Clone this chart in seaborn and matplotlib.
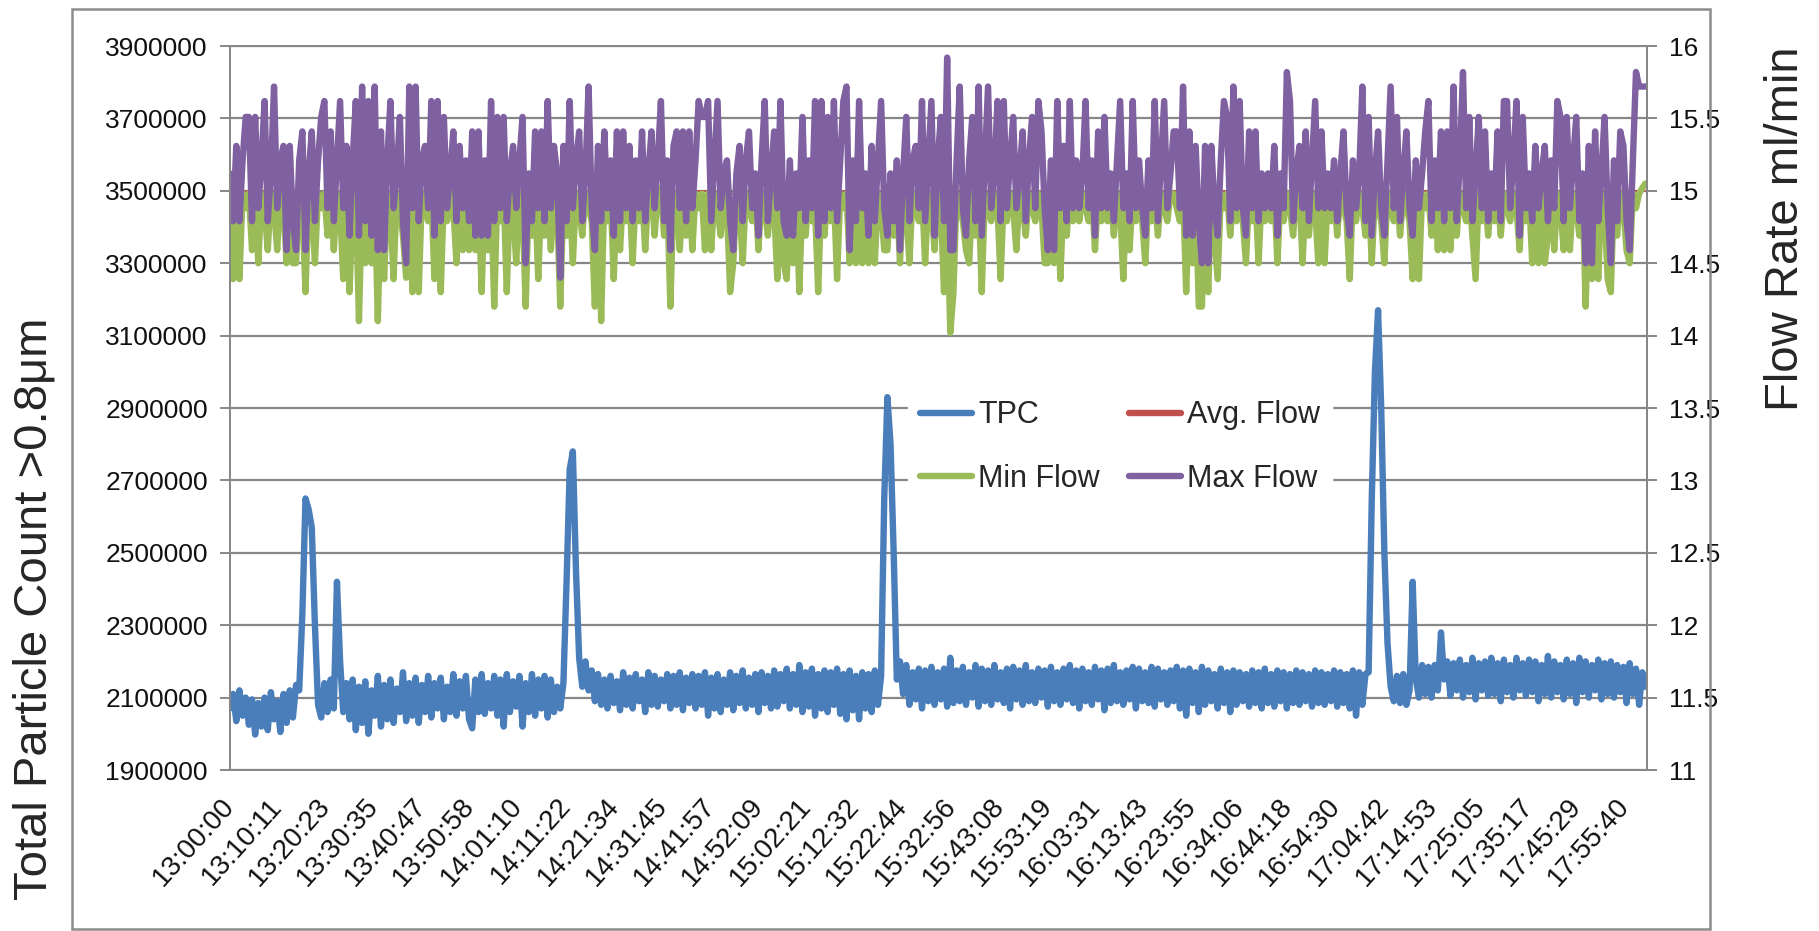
import numpy as np
import matplotlib
matplotlib.use("Agg")
import matplotlib.pyplot as plt
import seaborn as sns
from matplotlib.lines import Line2D
from matplotlib.patches import Rectangle

# ---------------- data ----------------
x_tick_labels = ["13:00:00", "13:10:11", "13:20:23", "13:30:35", "13:40:47", "13:50:58",
                 "14:01:10", "14:11:22", "14:21:34", "14:31:45", "14:41:57", "14:52:09",
                 "15:02:21", "15:12:32", "15:22:44", "15:32:56", "15:43:08", "15:53:19",
                 "16:03:31", "16:13:43", "16:23:55", "16:34:06", "16:44:18", "16:54:30",
                 "17:04:42", "17:14:53", "17:25:05", "17:35:17", "17:45:29", "17:55:40"]
left_ticks = [1900000, 2100000, 2300000, 2500000, 2700000, 2900000,
              3100000, 3300000, 3500000, 3700000, 3900000]
right_ticks = [11, 11.5, 12, 12.5, 13, 13.5, 14, 14.5, 15, 15.5, 16]
right_tick_labels = ["11", "11.5", "12", "12.5", "13", "13.5", "14", "14.5", "15", "15.5", "16"]

sample_step_s = 40      # one reading every 40 s (13:00:00 .. 18:00:00)
avg_step_s = 400
x_end_s = 18020

# Total particle count, in thousands
tpc_k = [
    2070, 2110, 2035, 2120, 2050, 2100, 2025, 2095, 1998, 2085,
    2020, 2100, 2010, 2115, 2040, 2090, 2005, 2110, 2030, 2120,
    2045, 2135, 2120, 2330, 2650, 2620, 2570, 2300, 2080, 2045,
    2140, 2060, 2150, 2070, 2420, 2200, 2060, 2140, 2040, 2150,
    2010, 2130, 2030, 2145, 2000, 2120, 2050, 2160, 2020, 2135,
    2040, 2150, 2030, 2125, 2060, 2170, 2035, 2140, 2050, 2155,
    2030, 2135, 2060, 2160, 2045, 2140, 2070, 2155, 2040, 2130,
    2060, 2165, 2050, 2145, 2070, 2160, 2040, 2015, 2150, 2060,
    2165, 2055, 2140, 2070, 2160, 2050, 2150, 2020, 2165, 2060,
    2145, 2075, 2160, 2020, 2140, 2060, 2165, 2050, 2150, 2070,
    2160, 2045, 2150, 2060, 2130, 2070, 2140, 2420, 2730, 2780,
    2450, 2210, 2130, 2200, 2120, 2175, 2090, 2165, 2080, 2150,
    2070, 2160, 2085, 2145, 2065, 2170, 2080, 2155, 2070, 2165,
    2090, 2150, 2060, 2170, 2080, 2160, 2075, 2150, 2090, 2165,
    2070, 2160, 2080, 2170, 2065, 2155, 2085, 2165, 2070, 2160,
    2080, 2170, 2050, 2155, 2070, 2165, 2060, 2150, 2080, 2170,
    2065, 2160, 2085, 2175, 2070, 2155, 2080, 2165, 2060, 2170,
    2085, 2160, 2070, 2175, 2075, 2165, 2090, 2180, 2070, 2165,
    2080, 2190, 2060, 2170, 2075, 2180, 2050, 2165, 2070, 2175,
    2060, 2170, 2080, 2180, 2055, 2165, 2040, 2175, 2065, 2160,
    2040, 2170, 2070, 2165, 2060, 2175, 2080, 2160, 2650, 2930,
    2800, 2500, 2150, 2200, 2110, 2190, 2080, 2170, 2095, 2180,
    2070, 2175, 2090, 2185, 2080, 2170, 2095, 2180, 2075, 2210,
    2085, 2175, 2090, 2185, 2080, 2170, 2100, 2190, 2075, 2180,
    2090, 2175, 2080, 2190, 2095, 2170, 2085, 2180, 2070, 2185,
    2095, 2175, 2080, 2190, 2090, 2170, 2085, 2180, 2100, 2175,
    2075, 2185, 2090, 2170, 2080, 2180, 2095, 2190, 2085, 2175,
    2070, 2180, 2090, 2170, 2080, 2185, 2095, 2175, 2065, 2180,
    2085, 2190, 2090, 2170, 2080, 2175, 2095, 2185, 2070, 2180,
    2090, 2170, 2085, 2185, 2075, 2180, 2095, 2170, 2080, 2175,
    2090, 2185, 2070, 2175, 2050, 2180, 2085, 2170, 2060, 2185,
    2080, 2175, 2090, 2165, 2070, 2180, 2085, 2170, 2060, 2175,
    2080, 2170, 2090, 2165, 2075, 2175, 2085, 2170, 2070, 2180,
    2085, 2165, 2075, 2175, 2090, 2170, 2070, 2165, 2085, 2175,
    2080, 2170, 2090, 2165, 2075, 2175, 2085, 2170, 2080, 2165,
    2090, 2175, 2075, 2170, 2085, 2165, 2070, 2175, 2050, 2170,
    2080, 2165, 2170, 2650, 3000, 3170, 2900, 2500, 2250, 2130,
    2090, 2160, 2085, 2165, 2080, 2120, 2420, 2150, 2100, 2190,
    2110, 2185, 2100, 2190, 2120, 2280, 2150, 2200, 2105, 2195,
    2120, 2205, 2100, 2190, 2115, 2210, 2095, 2195, 2120, 2200,
    2105, 2210, 2110, 2195, 2090, 2205, 2115, 2190, 2100, 2210,
    2120, 2195, 2105, 2205, 2115, 2200, 2090, 2190, 2110, 2215,
    2100, 2200, 2115, 2190, 2095, 2205, 2110, 2195, 2085, 2210,
    2115, 2200, 2100, 2190, 2120, 2205, 2095, 2195, 2110, 2200,
    2100, 2190, 2115, 2185, 2085, 2195, 2110, 2180, 2080, 2170,
    2130,
]

max_flow = [
    15.12, 14.79, 15.31, 14.79, 15.21, 15.51, 15.51, 14.79, 15.51, 14.88,
    15.21, 15.62, 14.79, 15.12, 15.72, 14.88, 15.21, 15.31, 14.59, 15.31,
    14.79, 14.59, 15.21, 15.41, 14.59, 15.12, 15.41, 14.79, 15.21, 15.51,
    15.62, 14.88, 15.41, 14.79, 15.21, 15.62, 14.88, 15.31, 14.69, 15.21,
    15.62, 14.69, 15.72, 14.79, 15.62, 14.69, 15.72, 14.59, 15.41, 14.59,
    15.21, 15.62, 14.88, 15.12, 15.51, 14.79, 14.50, 15.72, 14.88, 15.72,
    14.79, 15.21, 15.31, 14.88, 15.62, 14.69, 15.62, 14.79, 15.51, 14.88,
    15.12, 15.41, 14.79, 15.31, 14.88, 15.21, 14.79, 15.41, 14.69, 15.41,
    14.69, 15.21, 14.69, 15.62, 14.79, 15.51, 14.88, 15.51, 14.79, 15.12,
    15.31, 14.88, 15.21, 15.51, 14.50, 15.12, 14.79, 15.41, 14.88, 15.41,
    14.79, 15.62, 14.88, 15.31, 15.12, 14.40, 15.31, 14.79, 15.62, 14.88,
    15.21, 15.41, 14.79, 15.12, 15.72, 14.88, 14.59, 15.31, 14.79, 15.41,
    14.88, 15.21, 14.69, 15.41, 14.79, 15.41, 14.88, 15.31, 14.79, 15.21,
    14.88, 15.41, 14.79, 15.12, 15.41, 14.88, 15.21, 15.62, 14.79, 15.21,
    14.59, 15.31, 15.41, 14.88, 15.41, 14.79, 15.41, 14.88, 15.21, 15.62,
    15.51, 15.51, 15.62, 14.79, 15.21, 15.62, 14.88, 15.12, 15.21, 14.79,
    14.59, 15.12, 15.31, 14.79, 15.21, 15.41, 14.88, 15.12, 14.69, 15.21,
    15.62, 14.79, 15.12, 15.41, 14.88, 15.62, 14.79, 14.69, 15.21, 14.69,
    15.12, 14.88, 15.51, 14.79, 15.21, 14.88, 15.62, 14.69, 15.62, 14.79,
    15.51, 14.88, 15.62, 14.79, 15.21, 15.62, 15.72, 14.59, 15.21, 14.79,
    15.62, 14.88, 15.12, 14.69, 15.31, 14.79, 15.21, 15.62, 14.88, 14.69,
    15.12, 14.79, 15.21, 14.59, 15.12, 15.51, 14.79, 15.21, 15.31, 14.88,
    15.62, 14.79, 15.21, 15.62, 14.69, 15.21, 15.51, 14.79, 15.92, 14.59,
    14.59, 15.21, 15.72, 14.88, 14.69, 15.21, 15.51, 14.79, 15.72, 14.69,
    15.21, 15.72, 14.88, 15.12, 15.62, 14.79, 15.62, 14.88, 15.21, 15.51,
    14.88, 15.12, 15.41, 14.79, 15.21, 15.51, 14.88, 15.62, 15.41, 14.88,
    14.59, 15.21, 14.59, 15.62, 14.88, 15.31, 14.79, 15.62, 14.88, 15.21,
    14.88, 15.12, 15.62, 14.88, 15.21, 14.69, 15.41, 14.88, 15.51, 14.88,
    15.12, 14.79, 15.21, 15.62, 14.88, 15.12, 14.79, 15.62, 14.88, 15.21,
    14.88, 14.69, 15.21, 14.88, 15.62, 14.79, 15.21, 15.62, 14.88, 15.12,
    15.41, 15.41, 14.88, 15.72, 14.69, 15.41, 14.69, 15.31, 14.79, 14.50,
    15.31, 14.50, 15.31, 14.88, 14.69, 15.21, 15.62, 15.51, 14.79, 15.72,
    14.88, 15.62, 14.88, 14.69, 15.41, 14.88, 15.41, 14.79, 15.12, 14.88,
    15.12, 14.88, 15.31, 14.69, 15.12, 14.88, 15.82, 15.62, 14.79, 15.12,
    15.31, 14.88, 15.41, 14.79, 15.21, 15.62, 14.88, 15.41, 14.88, 15.12,
    14.88, 15.21, 14.79, 15.12, 15.41, 14.88, 14.69, 15.21, 14.88, 15.12,
    15.72, 14.79, 15.51, 14.69, 15.12, 15.41, 14.88, 14.69, 15.21, 15.72,
    14.88, 15.51, 14.79, 15.12, 15.41, 14.88, 14.69, 15.21, 14.88, 15.12,
    15.41, 15.62, 14.79, 15.21, 14.88, 15.41, 14.79, 15.41, 14.88, 15.72,
    14.79, 15.21, 15.82, 14.88, 15.51, 14.79, 15.12, 15.51, 14.88, 15.41,
    14.79, 15.12, 14.88, 15.41, 14.79, 15.62, 15.62, 14.88, 15.21, 15.62,
    14.69, 15.51, 14.88, 15.12, 14.79, 15.31, 14.88, 15.12, 15.31, 14.79,
    15.21, 14.88, 15.62, 15.51, 14.79, 15.51, 14.88, 15.21, 15.51, 14.79,
    15.12, 14.50, 15.31, 14.50, 15.41, 14.79, 15.12, 15.51, 14.88, 14.50,
    15.21, 14.79, 15.41, 15.31, 14.79, 14.59, 15.21, 15.82, 15.72, 15.72,
    15.72,
]

min_flow = [
    14.98, 14.39, 14.98, 14.39, 14.98, 14.88, 14.98, 14.59, 14.98, 14.50,
    14.98, 14.88, 14.59, 14.98, 14.88, 14.59, 14.98, 14.88, 14.50, 14.98,
    14.50, 14.50, 14.98, 14.88, 14.30, 14.98, 14.88, 14.50, 14.98, 14.88,
    14.98, 14.69, 14.98, 14.59, 14.98, 14.88, 14.39, 14.98, 14.30, 14.88,
    14.98, 14.10, 14.98, 14.50, 14.88, 14.50, 14.98, 14.10, 14.98, 14.39,
    14.98, 14.88, 14.39, 14.98, 14.88, 14.69, 14.40, 14.98, 14.30, 14.98,
    14.30, 14.98, 14.88, 14.79, 14.98, 14.39, 14.98, 14.30, 14.98, 14.79,
    14.98, 14.88, 14.50, 14.98, 14.59, 14.98, 14.59, 14.98, 14.59, 14.98,
    14.30, 14.98, 14.59, 14.98, 14.20, 14.98, 14.79, 14.98, 14.30, 14.98,
    14.88, 14.50, 14.98, 14.88, 14.20, 14.98, 14.69, 14.98, 14.39, 14.98,
    14.69, 14.98, 14.59, 14.98, 14.88, 14.20, 14.98, 14.69, 14.98, 14.50,
    14.98, 14.88, 14.69, 14.98, 14.88, 14.79, 14.20, 14.98, 14.10, 14.98,
    14.79, 14.98, 14.39, 14.98, 14.59, 14.98, 14.79, 14.98, 14.50, 14.98,
    14.79, 14.98, 14.59, 14.98, 15.02, 14.69, 14.98, 15.02, 14.69, 14.98,
    14.20, 14.98, 14.88, 14.59, 14.98, 14.69, 14.98, 14.59, 14.98, 14.88,
    14.98, 14.59, 14.98, 14.59, 14.98, 14.88, 14.69, 14.98, 14.88, 14.30,
    14.50, 14.98, 14.88, 14.50, 14.98, 14.88, 14.79, 14.98, 14.59, 14.98,
    14.88, 14.69, 14.98, 14.88, 14.39, 14.98, 14.50, 14.39, 14.98, 14.50,
    14.98, 14.30, 14.98, 14.69, 14.98, 14.79, 14.88, 14.30, 14.98, 14.69,
    14.98, 14.79, 14.98, 14.39, 14.98, 14.88, 14.98, 14.50, 14.98, 14.50,
    14.98, 14.50, 14.98, 14.50, 14.98, 14.50, 14.98, 14.88, 14.59, 14.59,
    14.98, 14.69, 14.98, 14.50, 14.98, 14.88, 14.50, 14.98, 14.88, 14.79,
    14.98, 14.50, 14.98, 14.88, 14.59, 14.98, 14.88, 14.30, 14.88, 14.02,
    14.30, 14.98, 14.88, 14.79, 14.59, 14.50, 14.98, 14.69, 14.98, 14.30,
    14.98, 14.88, 14.79, 14.98, 14.88, 14.39, 14.98, 14.79, 14.98, 14.88,
    14.59, 14.98, 14.88, 14.69, 14.98, 14.88, 14.79, 14.98, 14.88, 14.50,
    14.50, 14.98, 14.50, 14.98, 14.39, 14.98, 14.69, 14.98, 14.79, 14.98,
    14.79, 14.98, 14.88, 14.79, 14.98, 14.59, 14.98, 14.79, 14.98, 14.79,
    14.98, 14.69, 14.98, 14.88, 14.39, 14.98, 14.59, 14.98, 14.79, 14.98,
    14.79, 14.50, 14.98, 14.79, 14.98, 14.69, 14.98, 14.88, 14.79, 14.98,
    14.98, 14.88, 14.79, 14.98, 14.30, 14.98, 14.50, 14.98, 14.20, 14.20,
    14.98, 14.30, 14.98, 14.69, 14.39, 14.98, 14.88, 14.98, 14.69, 14.98,
    14.79, 14.98, 14.79, 14.50, 14.98, 14.79, 14.98, 14.50, 14.98, 14.79,
    14.98, 14.79, 14.98, 14.50, 14.98, 14.79, 14.98, 14.88, 14.69, 14.98,
    14.98, 14.50, 14.98, 14.69, 14.98, 14.88, 14.50, 14.98, 14.50, 14.98,
    14.79, 14.98, 14.69, 14.98, 14.88, 14.79, 14.39, 14.98, 14.79, 14.98,
    14.88, 14.69, 14.98, 14.50, 14.98, 14.88, 14.79, 14.50, 14.98, 14.88,
    14.79, 14.98, 14.69, 14.98, 14.88, 14.79, 14.39, 14.98, 14.39, 14.98,
    14.88, 14.98, 14.69, 14.98, 14.59, 14.98, 14.59, 14.98, 14.59, 14.98,
    14.69, 14.98, 14.88, 14.79, 14.98, 14.69, 14.39, 14.98, 14.79, 14.98,
    14.69, 14.98, 14.79, 14.98, 14.69, 14.98, 14.88, 14.79, 14.98, 14.88,
    14.59, 14.98, 14.79, 14.98, 14.50, 14.98, 14.50, 14.98, 14.50, 14.69,
    14.98, 14.59, 14.98, 14.88, 14.59, 14.98, 14.59, 14.98, 14.88, 14.69,
    14.98, 14.20, 14.98, 14.39, 14.98, 14.39, 14.98, 14.88, 14.39, 14.30,
    14.98, 14.69, 14.98, 14.88, 14.59, 14.50, 14.98, 14.88, 14.98, 15.02,
    15.05,
]

avg_flow = [14.99, 15.00, 14.98, 14.99, 15.00, 14.99, 14.98, 15.00, 14.99, 14.99,
            15.00, 14.98, 15.00, 14.99, 14.99, 15.00, 14.98, 14.99, 15.00, 14.99,
            15.00, 14.99, 14.98, 15.00, 14.99, 14.99, 15.00, 14.99, 14.98, 14.99,
            15.00, 14.99, 15.00, 14.99, 14.98, 15.00, 14.99, 14.99, 15.00, 14.99,
            14.99, 14.98, 15.00, 14.99, 15.00, 15.00]

# ---------------- style ----------------
C_TPC = "#4A7EBB"
C_AVG = "#C0504D"
C_MIN = "#9BBB59"
C_MAX = "#7F60A0"
C_GRID = "#878787"

sns.set_style("white")
plt.rcParams["font.family"] = ["Liberation Sans Narrow", "Liberation Sans", "DejaVu Sans"]

W, H = 1819, 931
fig = plt.figure(figsize=(W / 100, H / 100), dpi=100)
L, R, T, B = 230, 1647, 46, 770
ax = fig.add_axes([L / W, 1 - B / H, (R - L) / W, (B - T) / H])
ax2 = ax.twinx()

t_main = np.arange(len(tpc_k)) * sample_step_s
t_max = np.arange(len(max_flow)) * sample_step_s
t_min = np.arange(len(min_flow)) * sample_step_s
t_avg = np.arange(len(avg_flow)) * avg_step_s
tpc = np.array(tpc_k) * 1000

LW = 4.6
sns.lineplot(x=t_main, y=tpc, ax=ax, color=C_TPC, lw=LW, estimator=None, legend=False)
# average flow lies inside the min/max band and is hidden beneath it
sns.lineplot(x=t_avg, y=avg_flow, ax=ax2, color=C_AVG, lw=1.2, estimator=None, legend=False)
sns.lineplot(x=t_min, y=min_flow, ax=ax2, color=C_MIN, lw=LW, estimator=None, legend=False)
sns.lineplot(x=t_max, y=max_flow, ax=ax2, color=C_MAX, lw=LW, estimator=None, legend=False)

# x axis: positions parsed from the time labels
def to_seconds(s):
    h, m, sec = (int(p) for p in s.split(":"))
    return (h - 13) * 3600 + m * 60 + sec

x_ticks = [to_seconds(s) for s in x_tick_labels]
ax.set_xlim(0, x_end_s)
ax.set_xticks(x_ticks)
ax.set_xticklabels(x_tick_labels, rotation=48, ha="right", va="center",
                   rotation_mode="anchor")
ax.set_ylim(left_ticks[0], left_ticks[-1])
ax.set_yticks(left_ticks)
ax.set_yticklabels([str(v) for v in left_ticks])
ax2.set_ylim(right_ticks[0], right_ticks[-1])
ax2.set_yticks(right_ticks)
ax2.set_yticklabels(right_tick_labels)
ax.set_xlabel("")
ax.set_ylabel("")
ax2.set_ylabel("")

ax.grid(axis="y", color=C_GRID, lw=1.6)
ax.grid(axis="x", visible=False)
ax.set_axisbelow(True)
for a in (ax, ax2):
    for sp in a.spines.values():
        sp.set_color(C_GRID)
        sp.set_linewidth(1.4)
        sp.set_visible(True)

ax.tick_params(axis="y", direction="out", length=7, width=1.4, color=C_GRID,
               labelsize=19, pad=9, labelcolor="#111111")
ax.tick_params(axis="x", direction="out", length=9, width=1.4, color=C_GRID,
               labelsize=20, pad=14, labelcolor="#111111")
ax2.tick_params(axis="y", direction="out", length=7, width=1.4, color=C_GRID,
                labelsize=19, pad=9, labelcolor="#111111")

# axis titles
fig.text(35 / W, 1 - 609 / H, "Total Particle Count >0.8μm", rotation=90,
         ha="center", va="center", fontsize=34, family=["Liberation Sans", "DejaVu Sans"])
fig.text(1786 / W, 1 - 229 / H, "Flow Rate ml/min", rotation=90,
         ha="center", va="center", fontsize=34, family=["Liberation Sans", "DejaVu Sans"])

# legend (two columns: TPC / Avg. Flow on first row, Min / Max on second)
handles = [Line2D([], [], color=C_TPC, lw=LW), Line2D([], [], color=C_MIN, lw=LW),
           Line2D([], [], color=C_AVG, lw=LW), Line2D([], [], color=C_MAX, lw=LW)]
labels = ["TPC", "Min Flow", "Avg. Flow", "Max Flow"]
leg = ax2.legend(handles, labels, ncol=2, loc="upper left",
                 bbox_to_anchor=(908 / W, 1 - 388 / H), bbox_transform=fig.transFigure,
                 frameon=True, framealpha=1, facecolor="white", edgecolor="white",
                 fancybox=False, fontsize=22, handlelength=1.7, handletextpad=0.2,
                 columnspacing=0.95, labelspacing=1.1, borderpad=0.4, borderaxespad=0)

# outer chart border
fig.add_artist(Rectangle((72 / W, 2 / H), (1710 - 72) / W, (929 - 9) / H,
                         transform=fig.transFigure, fill=False,
                         edgecolor="#8c8c8c", lw=1.8))

fig.savefig("out.png", dpi=100)
